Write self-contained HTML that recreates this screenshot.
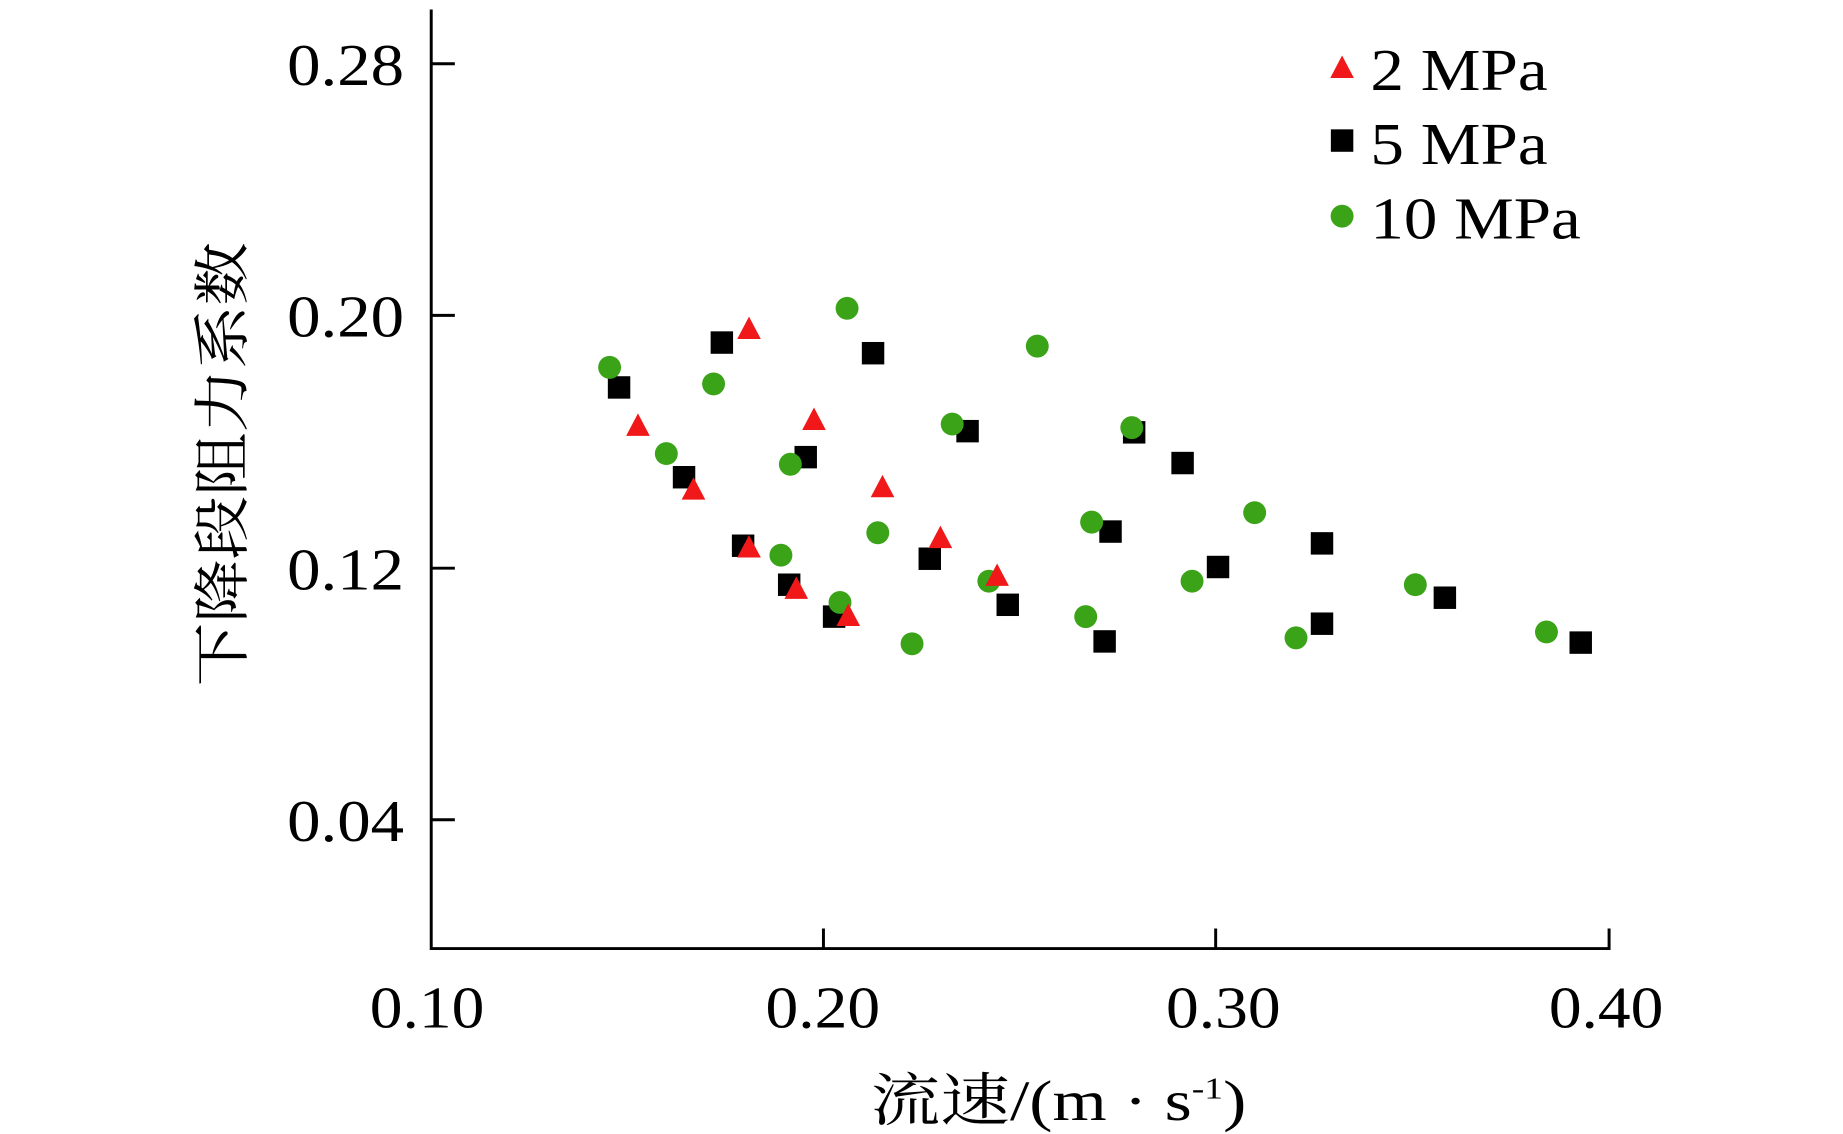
<!DOCTYPE html>
<html><head><meta charset="utf-8"><style>html,body{margin:0;padding:0;background:#fff}svg{display:block}</style></head>
<body>
<svg width="1843" height="1134" viewBox="0 0 1560 960" preserveAspectRatio="none" xmlns="http://www.w3.org/2000/svg">
<defs>
<path id="t" d="M0,-11 L10,8 L-10,8 Z" fill="#f01818"/>
<rect id="s" x="-9.5" y="-9.5" width="19" height="19" fill="#000"/>
<circle id="c" r="9.7" fill="#3aa318"/>
</defs>
<g stroke="#000" stroke-width="2.5" fill="none">
<path d="M365,8 L365,803 L1362,803 L1362,786"/>
<path d="M365,54 H385 M365,267 H385 M365,481 H385 M365,694 H385"/>
<path d="M697,803 V786 M1029,803 V786"/>
</g>
<g font-family="Liberation Serif, serif" font-size="50" fill="#000" lengthAdjust="spacingAndGlyphs">
<text x="243" y="72" textLength="99" lengthAdjust="spacingAndGlyphs">0.28</text>
<text x="243" y="285" textLength="99" lengthAdjust="spacingAndGlyphs">0.20</text>
<text x="243" y="499" textLength="99" lengthAdjust="spacingAndGlyphs">0.12</text>
<text x="243" y="712" textLength="99" lengthAdjust="spacingAndGlyphs">0.04</text>
<text x="313" y="870" textLength="97" lengthAdjust="spacingAndGlyphs">0.10</text>
<text x="648" y="870" textLength="97" lengthAdjust="spacingAndGlyphs">0.20</text>
<text x="987" y="870" textLength="97" lengthAdjust="spacingAndGlyphs">0.30</text>
<text x="1311" y="870" textLength="97" lengthAdjust="spacingAndGlyphs">0.40</text>
<text x="1160" y="76" textLength="150" lengthAdjust="spacingAndGlyphs">2 MPa</text>
<text x="1160" y="139" textLength="150" lengthAdjust="spacingAndGlyphs">5 MPa</text>
<text x="1160" y="202" textLength="178" lengthAdjust="spacingAndGlyphs">10 MPa</text>
</g>
<text transform="translate(205,393) rotate(-90)" x="-188" y="0" textLength="376" lengthAdjust="spacingAndGlyphs" font-family="Liberation Serif, 'Noto Serif CJK SC', serif" font-size="48">下降段阻力系数</text>
<text x="737" y="948" textLength="318" lengthAdjust="spacingAndGlyphs" font-family="Liberation Serif, 'Noto Serif CJK SC', serif" font-size="48">流速/(m · s<tspan font-size="26" dy="-18">-1</tspan><tspan dy="18">)</tspan></text>
<use href="#t" x="1136" y="58"/><use href="#s" x="1136" y="119"/><use href="#c" x="1136" y="183"/>
<use href="#s" x="524" y="328"/><use href="#s" x="611" y="290"/><use href="#s" x="579" y="404"/><use href="#s" x="629" y="462"/><use href="#s" x="682" y="387"/><use href="#s" x="739" y="299"/><use href="#s" x="668" y="495"/><use href="#s" x="706" y="522"/><use href="#s" x="787" y="473"/><use href="#s" x="819" y="365"/><use href="#s" x="853" y="512"/><use href="#s" x="940" y="450"/><use href="#s" x="935" y="543"/><use href="#s" x="960" y="366"/><use href="#s" x="1001" y="392"/><use href="#s" x="1031" y="480"/><use href="#s" x="1119" y="460"/><use href="#s" x="1119" y="528"/><use href="#s" x="1223" y="506"/><use href="#s" x="1338" y="544"/>
<use href="#c" x="516" y="311"/><use href="#c" x="604" y="325"/><use href="#c" x="564" y="384"/><use href="#c" x="669" y="393"/><use href="#c" x="717" y="261"/><use href="#c" x="661" y="470"/><use href="#c" x="743" y="451"/><use href="#c" x="711" y="510"/><use href="#c" x="772" y="545"/><use href="#c" x="806" y="359"/><use href="#c" x="837" y="492"/><use href="#c" x="878" y="293"/><use href="#c" x="924" y="442"/><use href="#c" x="919" y="522"/><use href="#c" x="958" y="362"/><use href="#c" x="1009" y="492"/><use href="#c" x="1062" y="434"/><use href="#c" x="1097" y="540"/><use href="#c" x="1198" y="495"/><use href="#c" x="1309" y="535"/>
<use href="#t" x="634" y="279"/><use href="#t" x="540" y="361"/><use href="#t" x="587" y="415"/><use href="#t" x="689" y="356"/><use href="#t" x="747" y="413"/><use href="#t" x="634" y="464"/><use href="#t" x="796" y="456"/><use href="#t" x="674" y="499"/><use href="#t" x="844" y="488"/><use href="#t" x="718" y="522"/>
</svg>
</body></html>
